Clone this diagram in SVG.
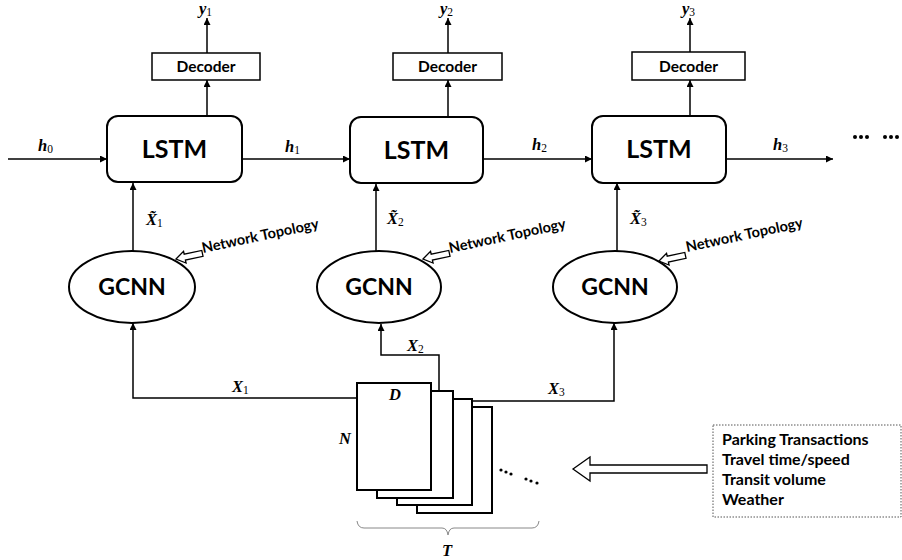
<svg xmlns="http://www.w3.org/2000/svg" width="902" height="560" viewBox="0 0 902 560">
<defs>
<marker id="ah" viewBox="0 0 10 10" refX="10" refY="5" markerWidth="7" markerHeight="7" markerUnits="userSpaceOnUse" orient="auto">
<path d="M0,0 L10,5 L0,10 z" fill="#000"/>
</marker>
<path id="hollow" d="M0,0 L9,-6 L9,-3 L27,-3 L27,3 L9,3 L9,6 z"/>
</defs>
<style>
.box{fill:#fff;stroke:#000;stroke-width:2}
.dec{fill:#fff;stroke:#000;stroke-width:1.5}
.conn{fill:none;stroke:#000;stroke-width:1.5}
.arr{fill:none;stroke:#000;stroke-width:1.5;marker-end:url(#ah)}
.sans{font-family:Lato,"Open Sans","Liberation Sans",sans-serif;font-weight:bold;fill:#000}
.big{font-size:25px}
.mid{font-size:23px}
.decT{font-size:15.5px}
.nt{font-size:14.5px}
.data{font-size:16px}
.math{font-family:"Liberation Serif","DejaVu Serif",serif;font-style:italic;font-weight:bold;font-size:16.5px;fill:#000}
.sub{font-style:normal;font-weight:normal;font-size:11.5px}
.doc{fill:#fff;stroke:#000;stroke-width:2}
.hol{fill:#fff;stroke:#000;stroke-width:1.3}
</style>
<rect width="902" height="560" fill="#fff"/>

<g id="connectors">
<line class="arr" x1="8" y1="159" x2="107" y2="159"/>
<line class="arr" x1="242" y1="159" x2="350" y2="159"/>
<line class="arr" x1="483" y1="159" x2="592" y2="159"/>
<line class="arr" x1="726" y1="159" x2="833" y2="159"/>
<line class="arr" x1="207" y1="116" x2="207" y2="80"/>
<line class="arr" x1="448" y1="117" x2="448" y2="80"/>
<line class="arr" x1="690" y1="116" x2="690" y2="80"/>
<line class="arr" x1="207" y1="53" x2="207" y2="18"/>
<line class="arr" x1="448" y1="53" x2="448" y2="18"/>
<line class="arr" x1="690" y1="52" x2="690" y2="18"/>
<line class="arr" x1="133" y1="251" x2="133" y2="183"/>
<line class="arr" x1="376" y1="251" x2="376" y2="184"/>
<line class="arr" x1="617" y1="251" x2="617" y2="183"/>
<polyline class="arr" points="357,398 133,398 133,323"/>
<polyline class="arr" points="439,391 439,355 381,355 381,324"/>
<polyline class="arr" points="472,401 614,401 614,323"/>
</g>

<g id="lstm1"><rect class="box" x="107" y="116" width="135" height="66" rx="11"/><text class="sans big" x="174.5" y="158" text-anchor="middle">LSTM</text></g>
<g id="lstm2"><rect class="box" x="350" y="117" width="133" height="66" rx="11"/><text class="sans big" x="416.5" y="159" text-anchor="middle">LSTM</text></g>
<g id="lstm3"><rect class="box" x="592" y="116" width="134" height="67" rx="11"/><text class="sans big" x="659" y="158" text-anchor="middle">LSTM</text></g>

<g id="decoder1"><rect class="dec" x="152" y="53" width="108" height="27"/><text class="sans decT" x="206" y="72" text-anchor="middle">Decoder</text></g>
<g id="decoder2"><rect class="dec" x="393" y="53" width="109" height="27"/><text class="sans decT" x="447.5" y="72" text-anchor="middle">Decoder</text></g>
<g id="decoder3"><rect class="dec" x="632" y="52" width="113" height="28"/><text class="sans decT" x="688.5" y="71.5" text-anchor="middle">Decoder</text></g>

<g id="gcnn1"><ellipse class="box" cx="132" cy="287" rx="63" ry="36"/><text class="sans mid" x="132" y="295" text-anchor="middle">GCNN</text></g>
<g id="gcnn2"><ellipse class="box" cx="379" cy="287" rx="62" ry="36"/><text class="sans mid" x="379" y="295" text-anchor="middle">GCNN</text></g>
<g id="gcnn3"><ellipse class="box" cx="615" cy="287" rx="62" ry="36"/><text class="sans mid" x="615" y="295" text-anchor="middle">GCNN</text></g>

<g id="topology1">
<use href="#hollow" class="hol" transform="translate(176,259) rotate(-12)"/>
<text class="sans nt" transform="translate(203,253) rotate(-12)">Network Topology</text>
</g>
<g id="topology2">
<use href="#hollow" class="hol" transform="translate(423,259) rotate(-12)"/>
<text class="sans nt" transform="translate(450,253) rotate(-12)">Network Topology</text>
</g>
<g id="topology3">
<use href="#hollow" class="hol" transform="translate(659,261) rotate(-12)"/>
<text class="sans nt" transform="translate(687,252) rotate(-12)">Network Topology</text>
</g>

<g id="labels">
<text class="math" x="199" y="14">y<tspan class="sub" dy="2">1</tspan></text>
<text class="math" x="440" y="14">y<tspan class="sub" dy="2">2</tspan></text>
<text class="math" x="682" y="14">y<tspan class="sub" dy="2">3</tspan></text>
<text class="math" x="38" y="151">h<tspan class="sub" dy="2">0</tspan></text>
<text class="math" x="285" y="152">h<tspan class="sub" dy="2">1</tspan></text>
<text class="math" x="532" y="150">h<tspan class="sub" dy="2">2</tspan></text>
<text class="math" x="773" y="150">h<tspan class="sub" dy="2">3</tspan></text>
<text class="math" x="146" y="225">X̃<tspan class="sub" dy="2">1</tspan></text>
<text class="math" x="387" y="224">X̃<tspan class="sub" dy="2">2</tspan></text>
<text class="math" x="630" y="224">X̃<tspan class="sub" dy="2">3</tspan></text>
<text class="math" x="232" y="392">X<tspan class="sub" dy="2">1</tspan></text>
<text class="math" x="407" y="351">X<tspan class="sub" dy="2">2</tspan></text>
<text class="math" x="548" y="394">X<tspan class="sub" dy="2">3</tspan></text>
</g>

<g id="data-stack">
<rect class="doc" x="417" y="407" width="75" height="106"/>
<rect class="doc" x="397" y="399" width="75" height="106"/>
<rect class="doc" x="377" y="391" width="76" height="107"/>
<rect class="doc" x="357" y="383" width="74" height="107"/>
<text class="math" x="389" y="400">D</text>
<text class="math" x="339" y="444">N</text>
<g fill="#000">
<circle cx="501" cy="470" r="1.6"/><circle cx="506" cy="472" r="1.6"/><circle cx="511" cy="474" r="1.6"/>
<circle cx="526" cy="479" r="1.6"/><circle cx="531" cy="481" r="1.6"/><circle cx="537" cy="483" r="1.6"/>
</g>
<path d="M357,521 Q358,528 364,528 L442,528 Q447,528 448,535 Q449,528 454,528 L532,528 Q538,528 539,521" fill="none" stroke="#888" stroke-width="1"/>
<text class="math" x="442" y="556">T</text>
</g>

<g id="continuation" fill="#000">
<circle cx="855" cy="137" r="2"/><circle cx="861" cy="137" r="2"/><circle cx="867" cy="137" r="2"/>
<circle cx="885" cy="137" r="2"/><circle cx="891" cy="137" r="2"/><circle cx="897" cy="137" r="2"/>
</g>

<g id="features">
<path class="hol" d="M573,469 L590,457 L590,465 L707,465 L707,473 L590,473 L590,481 z"/>
<rect x="713" y="425" width="188" height="92" fill="#fff" stroke="#555" stroke-width="1" stroke-dasharray="1.5 1.5"/>
<text class="sans data" x="722" y="445">Parking Transactions</text>
<text class="sans data" x="722" y="465">Travel time/speed</text>
<text class="sans data" x="722" y="485">Transit volume</text>
<text class="sans data" x="722" y="505">Weather</text>
</g>
</svg>
